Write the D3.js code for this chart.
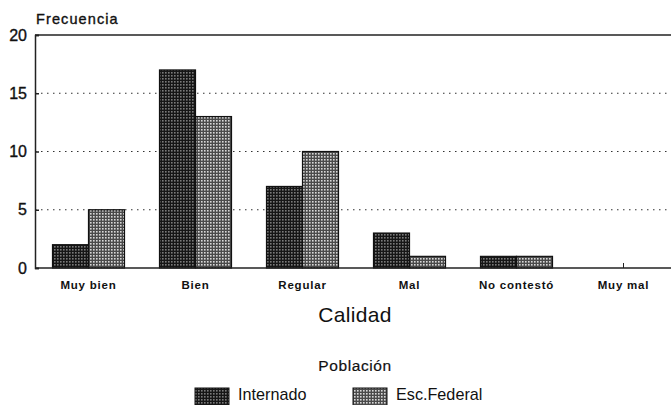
<!DOCTYPE html>
<html><head><meta charset="utf-8">
<script src="https://cdn.jsdelivr.net/npm/d3@7"></script>
<style>body{margin:0;background:#fff;} svg{display:block;font-family:"Liberation Sans",Arial,sans-serif;}</style>
</head><body>
<svg id="c" width="671" height="405"></svg>
<script>
const categories = ["Muy bien","Bien","Regular","Mal","No contestó","Muy mal"];
const internado = [2,17,7,3,1,0];
const escFederal = [5,13,10,1,1,0];
const yTicks = [0,5,10,15,20];
const seriesNames = ["Internado","Esc.Federal"];

const svg = d3.select("#c");
const m = {l:35, t:35, r:677, b:268};
const x = d3.scaleBand().domain(categories).range([m.l, m.r]).paddingInner(0).paddingOuter(0);
const y = d3.scaleLinear().domain([0,20]).range([m.b, m.t]);
const inner = d3.scaleBand().domain(seriesNames).range([0,72]);

const defs = svg.append("defs");
function pat(id, bg, fg){
  const p = defs.append("pattern").attr("id",id).attr("patternUnits","userSpaceOnUse").attr("width",3).attr("height",3);
  p.append("rect").attr("width",3).attr("height",3).attr("fill",bg);
  p.append("rect").attr("x",0).attr("y",0).attr("width",1.6).attr("height",1.6).attr("fill",fg);
}
pat("pI","#161616","#7a7a7a");
pat("pE","#4a4a4a","#d8d8d8");
const fills = {"Internado":"url(#pI)","Esc.Federal":"url(#pE)"};

// gridlines
svg.append("g").selectAll("line").data(yTicks.filter(d=>d>0 && d<20)).join("line")
  .attr("x1",m.l).attr("x2",671).attr("y1",d=>y(d)).attr("y2",d=>y(d))
  .attr("stroke","#333").attr("stroke-width",1.2).attr("stroke-dasharray","1.5,4.5");

// category ticks
svg.append("g").selectAll("line").data(categories).join("line")
  .attr("x1",d=>x(d)+x.bandwidth()/2).attr("x2",d=>x(d)+x.bandwidth()/2)
  .attr("y1",m.b).attr("y2",m.b-5).attr("stroke","#222").attr("stroke-width",1);

// bars
const data = categories.map((c,i)=>({c, vals:[{s:"Internado",v:internado[i]},{s:"Esc.Federal",v:escFederal[i]}]}));
const g = svg.append("g");
data.forEach(d=>{
  const x0 = x(d.c) + x.bandwidth()/2 - 36;
  d.vals.forEach(e=>{
    if(e.v<=0) return;
    g.append("rect").attr("x",x0+inner(e.s)).attr("y",y(e.v)).attr("width",inner.bandwidth()).attr("height",y(0)-y(e.v))
      .attr("fill",fills[e.s]).attr("stroke","#111").attr("stroke-width",1.2);
  });
});

// frame lines
svg.append("line").attr("x1",m.l).attr("x2",671).attr("y1",y(20)).attr("y2",y(20)).attr("stroke","#222").attr("stroke-width",1.5);
svg.append("line").attr("x1",m.l).attr("x2",671).attr("y1",y(0)).attr("y2",y(0)).attr("stroke","#222").attr("stroke-width",1.5);

// y axis
const ya = d3.axisLeft(y).tickValues(yTicks).tickSize(-4).tickPadding(8).tickFormat(d3.format("d"));
const yg = svg.append("g").attr("transform",`translate(${m.l},0)`).call(ya);
yg.select(".domain").attr("stroke","#222").attr("stroke-width",1.5);
yg.selectAll(".tick line").attr("stroke","#222").attr("stroke-width",1.5);
yg.selectAll("text").attr("font-size",16).attr("fill","#111").attr("stroke","#111").attr("stroke-width",0.35)
  .attr("font-family","Liberation Sans, Arial, sans-serif");

// x labels
const xa = d3.axisBottom(x).tickSize(0).tickPadding(13);
const xg = svg.append("g").attr("transform",`translate(0,${m.b})`).call(xa);
xg.select(".domain").remove();
xg.selectAll("text").attr("font-size",11.5).attr("font-weight","bold").attr("letter-spacing",0.8).attr("fill","#111")
  .attr("font-family","Liberation Sans, Arial, sans-serif");

// titles
svg.append("text").attr("x",36).attr("y",24).attr("font-size",14.5).attr("letter-spacing",1.1).attr("fill","#111")
  .attr("stroke","#111").attr("stroke-width",0.35).text("Frecuencia");
svg.append("text").attr("x",355).attr("y",322).attr("text-anchor","middle").attr("font-size",21).attr("letter-spacing",0.3).attr("fill","#111").text("Calidad");
svg.append("text").attr("x",355).attr("y",371).attr("text-anchor","middle").attr("font-size",15.5).attr("letter-spacing",0.6).attr("fill","#111")
  .attr("stroke","#111").attr("stroke-width",0.2).text("Población");

// legend
const legX = [195,353];
seriesNames.forEach((s,i)=>{
  svg.append("rect").attr("x",legX[i]).attr("y",388).attr("width",34).attr("height",18).attr("fill",fills[s]).attr("stroke","#111").attr("stroke-width",1);
  svg.append("text").attr("x",legX[i]+43).attr("y",400).attr("font-size",16.2).attr("fill","#111").text(s);
});
</script>
</body></html>
